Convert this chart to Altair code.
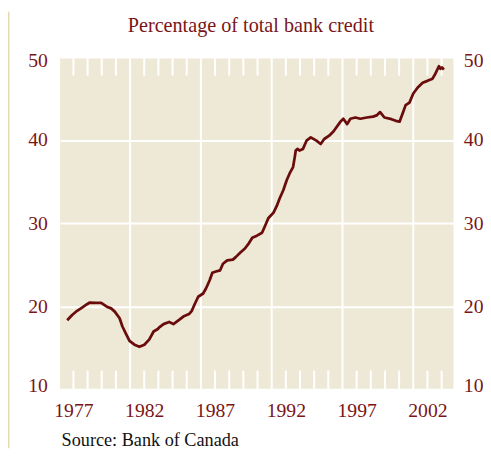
import altair as alt
import pandas as pd

# --- data ---
years = [1976.56, 1976.91, 1977.26, 1977.61, 1977.96, 1978.16, 1978.56, 1978.96, 1979.36, 1979.66,
         1979.92, 1980.26, 1980.46, 1980.73, 1980.96, 1981.31, 1981.66, 1982.01, 1982.36, 1982.66,
         1982.96, 1983.06, 1983.36, 1983.76, 1984.06, 1984.46, 1984.76, 1985.16, 1985.36, 1985.56,
         1985.81, 1986.16, 1986.36, 1986.62, 1986.81, 1987.06, 1987.36, 1987.56, 1987.86, 1988.26,
         1988.46, 1988.81, 1989.11, 1989.40, 1989.63, 1989.96, 1990.32, 1990.56, 1990.76, 1991.13,
         1991.36, 1991.56, 1991.82, 1992.06, 1992.26, 1992.51, 1992.63, 1992.70, 1992.82, 1992.96,
         1993.21, 1993.46, 1993.76, 1994.16, 1994.46, 1994.71, 1995.06, 1995.36, 1995.86, 1996.06,
         1996.33, 1996.56, 1996.91, 1997.26, 1997.72, 1998.16, 1998.41, 1998.66, 1998.96, 1999.46,
         1999.76, 2000.03, 2000.26, 2000.46, 2000.73, 2001.00, 2001.30, 2001.66, 2001.96, 2002.36,
         2002.56, 2002.81, 2002.92, 2003.03, 2003.16]
share = [18.31, 18.95, 19.45, 19.84, 20.24, 20.44, 20.39, 20.39, 19.94, 19.74,
         19.35, 18.55, 17.56, 16.61, 15.82, 15.37, 15.12, 15.37, 16.01, 16.96,
         17.26, 17.46, 17.85, 18.10, 17.85, 18.35, 18.75, 19.05, 19.45, 20.24,
         21.14, 21.53, 22.13, 23.13, 24.02, 24.18, 24.32, 25.11, 25.51, 25.61,
         25.91, 26.50, 26.95, 27.60, 28.24, 28.49, 28.84, 29.78, 30.58, 31.27,
         32.07, 32.96, 33.96, 35.15, 35.95, 36.74, 37.94, 38.73, 38.93, 38.73,
         38.93, 39.92, 40.32, 39.92, 39.52, 40.12, 40.52, 41.02, 42.21, 42.56,
         41.91, 42.56, 42.71, 42.56, 42.71, 42.81, 42.96, 43.36, 42.71, 42.51,
         42.31, 42.21, 43.26, 44.20, 44.50, 45.59, 46.29, 46.89, 47.09, 47.38,
         47.98, 48.88, 48.58, 48.73, 48.48]

label_years = [1977, 1982, 1987, 1992, 1997, 2002]
grid_years = [1981, 1986, 1991, 1996, 2001]
minor_years = [1977, 1978, 1979, 1980, 1982, 1983, 1984, 1985, 1987, 1988, 1989, 1990,
               1992, 1993, 1994, 1995, 1997, 1998, 1999, 2000, 2002, 2003]
y_ticks = [10, 20, 30, 40, 50]

title_text = "Percentage of total bank credit"
source_text = "Source: Bank of Canada"

# --- styles ---
FONT = "Liberation Serif"
RED = "#7a1517"
LINE = "#6a0c0c"
BG = "#eee9d7"

df = pd.DataFrame({"year": years, "share": share})
grid_df = pd.DataFrame({"year": grid_years})
minor_df = pd.DataFrame({"year": minor_years})

xscale = alt.Scale(domain=[1976.06, 2003.84], nice=False, zero=False)
yscale = alt.Scale(domain=[10, 50], nice=False, zero=False)

xaxis = alt.Axis(values=label_years, format="d", grid=False, ticks=False, tickSize=0,
                 domain=False, labelFont=FONT, labelFontSize=20, labelColor=RED,
                 labelPadding=12, title=None, labelFlush=False)

def yaxis(orient, pad):
    return alt.Axis(orient=orient, values=y_ticks, grid=(orient == "left"), gridColor="white",
                    gridWidth=2, gridOpacity=1, ticks=False, tickSize=0, domain=False,
                    labelFont=FONT, labelFontSize=20, labelColor=RED, labelPadding=pad,
                    labelFlush=True, labelFlushOffset=6, title=None)

vgrid = alt.Chart(grid_df).mark_rule(color="white", strokeWidth=2).encode(
    x=alt.X("year:Q", scale=xscale, axis=xaxis),
    y=alt.datum(10, scale=yscale, axis=yaxis("left", 13)),
    y2=alt.datum(50),
)

top_ticks = alt.Chart(minor_df).mark_rule(color="white", strokeWidth=2).encode(
    x=alt.X("year:Q", scale=xscale),
    y=alt.datum(50, scale=yscale, axis=yaxis("right", 10)),
    y2=alt.datum(47.75),
)
bottom_ticks = alt.Chart(minor_df).mark_rule(color="white", strokeWidth=2).encode(
    x=alt.X("year:Q", scale=xscale),
    y=alt.datum(10, scale=yscale, axis=None),
    y2=alt.datum(12.25),
)

line = alt.Chart(df).mark_line(color=LINE, strokeWidth=2.8, strokeJoin="round").encode(
    x=alt.X("year:Q", scale=xscale),
    y=alt.Y("share:Q", scale=yscale, axis=None),
)

one = pd.DataFrame({"t": [title_text]})
title = alt.Chart(one).mark_text(font=FONT, fontSize=20.5, color=RED, align="center",
                                 baseline="alphabetic").encode(
    text="t:N", x=alt.value(194), y=alt.value(-25))

src = alt.Chart(pd.DataFrame({"t": [source_text]})).mark_text(
    font=FONT, fontSize=18.5, color="#111111", align="left", baseline="alphabetic").encode(
    text="t:N", x=alt.value(1.5), y=alt.value(396))

border = alt.Chart(pd.DataFrame({"a": [0]})).mark_rule(color="#e4d9b0", strokeWidth=2).encode(
    x=alt.value(-52.5), y=alt.value(-46), y2=alt.value(398))

chart = alt.layer(vgrid, top_ticks, bottom_ticks, line, title, src, border).resolve_axis(
    y="independent"
).properties(
    width=400, height=338,
    autosize=alt.AutoSizeParams(type="none"),
    padding={"left": 53, "top": 46, "right": 30, "bottom": 60},
).configure_view(fill=BG, stroke=None)

chart.save("out.html", embed_options={"renderer": "svg", "actions": False})
